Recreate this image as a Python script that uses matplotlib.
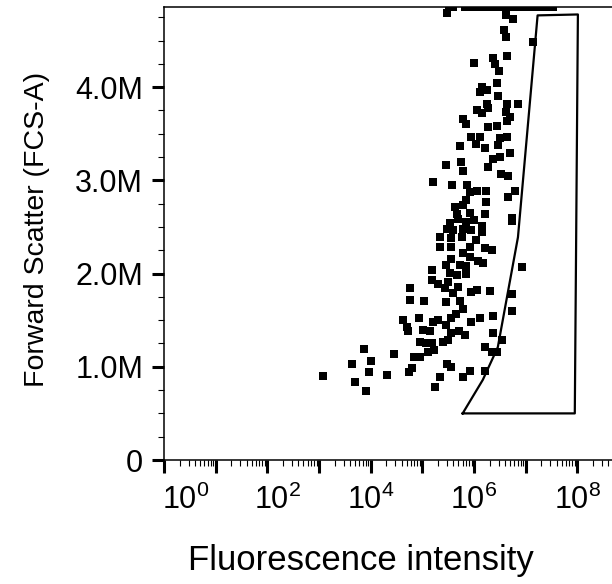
import numpy as np
import matplotlib
matplotlib.use('Agg')
import matplotlib.pyplot as plt
from matplotlib.ticker import FixedLocator, LogLocator, FuncFormatter, MultipleLocator, NullFormatter
from matplotlib.transforms import ScaledTranslation

plt.rcParams['font.family'] = 'Liberation Sans'
plt.rcParams['mathtext.fontset'] = 'custom'
plt.rcParams['mathtext.rm'] = 'Liberation Sans'

# events: log10(fluorescence), FSC-A in millions
log_fl = [3.08, 3.63, 3.87, 4.00, 3.97, 3.69, 3.91, 4.31, 4.45, 4.74, 4.79, 4.84, 4.95, 5.11, 5.08,
          4.95, 5.22, 5.18, 5.34, 5.24, 5.47, 5.56, 5.79, 5.93, 6.21, 6.21, 6.34, 6.37, 6.55, 6.37,
          6.74, 6.74, 4.76, 5.03, 5.45, 5.73, 4.63, 4.71, 4.73, 4.94, 5.02, 5.15, 5.20, 5.31, 5.45,
          5.56, 5.65, 5.79, 5.56, 5.71, 5.82, 5.40, 5.50, 5.95, 6.11, 5.95, 6.31, 5.60, 4.76, 6.05,
          6.44,
          5.73, 6.03, 6.21, 6.47, 6.50, 6.69, 6.37, 5.45, 5.74, 5.79, 6.27, 6.53, 6.66, 5.21, 5.58,
          5.87, 5.92, 6.05, 6.24, 6.79, 6.66, 6.24, 5.85, 5.79, 5.63, 5.67, 5.92, 6.21, 5.69, 5.53,
          5.85, 6.00, 6.73, 6.73, 6.15, 6.15, 5.47, 5.60, 5.79, 5.95, 5.34, 5.56, 5.76, 6.03, 5.34,
          5.56, 5.92, 6.21, 6.34, 5.79, 5.56, 5.92, 6.08, 6.18, 5.45, 5.73, 5.85, 5.18, 5.53, 5.67,
          5.85, 5.18, 5.31, 5.50, 5.69, 5.44, 6.92,
          5.48, 6.62, 6.76, 6.58, 6.62, 7.14, 6.00, 6.36, 6.40, 6.49, 6.64, 6.44, 6.15, 6.11, 6.25,
          6.47, 6.25, 6.64, 6.85, 6.06, 6.15, 6.27, 6.62, 6.69, 6.64, 5.79, 5.85, 6.27, 6.45, 5.95,
          6.11, 6.51, 6.64]
fsc_m = [0.90, 1.03, 1.19, 1.06, 0.94, 0.84, 0.74, 0.91, 1.14, 0.94, 0.99, 1.10, 1.11, 1.16, 1.25,
         1.27, 1.18, 1.25, 0.89, 0.78, 1.03, 1.00, 0.89, 0.95, 0.95, 1.21, 1.16, 1.36, 1.29, 1.54,
         1.60, 1.78, 1.72, 1.71, 1.70, 1.71, 1.50, 1.43, 1.38, 1.52, 1.40, 1.38, 1.48, 1.50, 1.45,
         1.52, 1.57, 1.62, 1.36, 1.38, 1.34, 1.27, 1.29, 1.48, 1.52, 1.80, 1.81, 1.79, 1.84, 1.82,
         1.16,
         3.37, 3.39, 3.35, 3.38, 3.25, 3.29, 3.23, 3.16, 3.20, 3.10, 3.14, 3.07, 3.05, 2.98, 2.95,
         2.95, 2.88, 2.89, 2.89, 2.89, 2.82, 2.77, 2.79, 2.74, 2.71, 2.64, 2.65, 2.64, 2.59, 2.54,
         2.55, 2.57, 2.60, 2.56, 2.51, 2.45, 2.48, 2.47, 2.48, 2.47, 2.39, 2.38, 2.39, 2.36, 2.29,
         2.28, 2.29, 2.27, 2.25, 2.22, 2.16, 2.18, 2.13, 2.11, 2.09, 2.09, 2.08, 2.04, 2.01, 1.98,
         2.00, 1.93, 1.89, 1.91, 1.86, 1.84, 2.07,
         4.80, 4.77, 4.73, 4.61, 4.54, 4.48, 4.26, 4.31, 4.25, 4.17, 4.33, 4.05, 4.00, 3.95, 3.97,
         3.91, 3.82, 3.82, 3.82, 3.75, 3.72, 3.78, 3.73, 3.68, 3.64, 3.66, 3.60, 3.57, 3.58, 3.47,
         3.47, 3.45, 3.47]

# events piled up at the FSC ceiling
top_log_fl = [5.52, 5.60, 5.83, 5.90, 5.98, 6.07, 6.15, 6.22, 6.31, 6.40, 6.47, 6.55, 6.63,
              6.72, 6.80, 6.88, 6.97, 7.05, 7.12, 7.21, 7.30, 7.38, 7.46, 7.52]
fsc_max_m = 4.86

# gate polygon
gate_log_fl = [5.78, 6.17, 6.46, 6.85, 7.23, 8.01, 7.95, 5.78]
gate_fsc_m = [0.50, 0.86, 1.21, 2.39, 4.77, 4.78, 0.50, 0.50]

x = 10 ** np.array(log_fl)
y = np.array(fsc_m) * 1e6

fig = plt.figure(figsize=(6.12, 5.84), dpi=100)
ax = fig.add_axes([164 / 612, 124 / 584, 448 / 612, 453 / 584])

ax.plot(x, y, 's', color='black', ms=5.2, mew=0)
ax.plot(10 ** np.array(top_log_fl), [fsc_max_m * 1e6] * len(top_log_fl), 's', color='black', ms=5.2, mew=0)
ax.plot(10 ** np.array(gate_log_fl), np.array(gate_fsc_m) * 1e6, color='black', lw=1.6)

ax.set_xscale('log')
ax.set_xlim(1, 10 ** 8.67)
ax.set_ylim(0, fsc_max_m * 1e6)

ax.spines['right'].set_visible(False)
for s in ['left', 'bottom', 'top']:
    ax.spines[s].set_linewidth(1.1)

ax.xaxis.set_major_locator(FixedLocator([10.0 ** k for k in range(9)]))
ax.xaxis.set_major_formatter(FuncFormatter(
    lambda v, p: r'$\mathregular{10^{%d}}$' % round(np.log10(v)) if round(np.log10(v)) % 2 == 0 else ''))
ax.xaxis.set_minor_locator(LogLocator(base=10, subs=np.arange(2, 10), numticks=30))
ax.xaxis.set_minor_formatter(NullFormatter())

ax.yaxis.set_major_locator(MultipleLocator(1e6))
ax.yaxis.set_minor_locator(MultipleLocator(0.25e6))
ax.yaxis.set_major_formatter(FuncFormatter(lambda v, p: '0' if v == 0 else '%.1fM' % (v / 1e6)))

ax.tick_params(which='major', direction='out', length=9, width=2.2, labelsize=22, top=False, right=False)
ax.tick_params(which='minor', direction='out', length=4, width=0.8, top=False, right=False)
ax.tick_params(axis='x', which='major', pad=9)
ax.tick_params(axis='y', which='major', pad=6)

ax.set_xlabel('Fluorescence intensity', fontsize=25)
ax.xaxis.set_label_coords(0.44, -0.185)
ax.set_ylabel('Forward Scatter (FCS-A)', fontsize=20.5)
ax.yaxis.set_label_coords(-0.255, 0.51)

# the two leftmost decade labels sit a bit right of their ticks
fig.canvas.draw()
ticks = ax.xaxis.get_major_ticks()
for i, dx in [(0, 0.22), (2, 0.10)]:
    lab = ticks[i].label1
    lab.set_transform(lab.get_transform() + ScaledTranslation(dx, 0, fig.dpi_scale_trans))

fig.savefig('out.png', dpi=100)
